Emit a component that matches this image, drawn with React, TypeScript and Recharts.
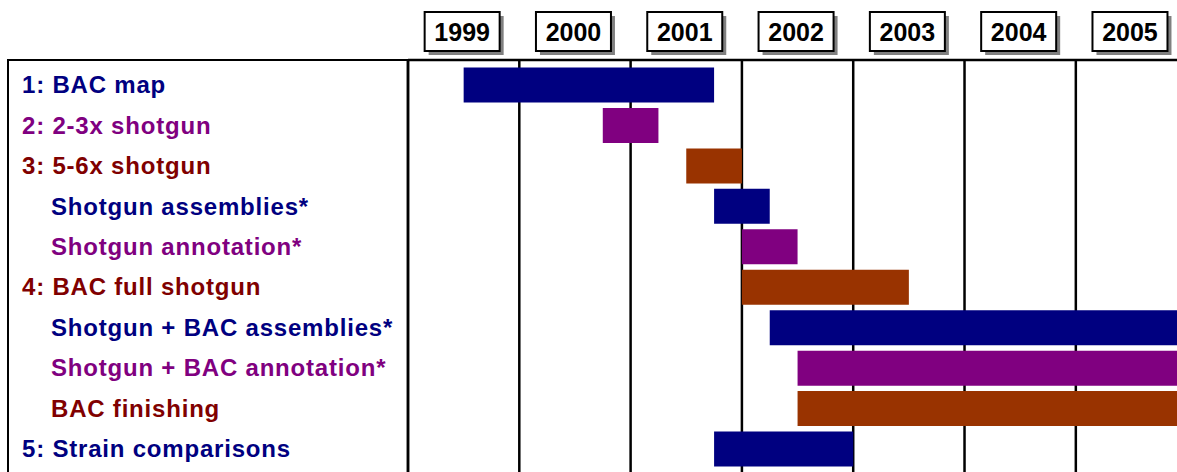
import React from 'react';
import { BarChart, Bar, XAxis, YAxis, CartesianGrid, Cell } from 'recharts';

const tasks = [
  '1: BAC map',
  '2: 2-3x shotgun',
  '3: 5-6x shotgun',
  'Shotgun assemblies*',
  'Shotgun annotation*',
  '4: BAC full shotgun',
  'Shotgun + BAC assemblies*',
  'Shotgun + BAC annotation*',
  'BAC finishing',
  '5: Strain comparisons',
];
const starts = [1999.5, 2000.75, 2001.5, 2001.75, 2002.0, 2002.0, 2002.25, 2002.5, 2002.5, 2001.75];
const ends = [2001.75, 2001.25, 2002.0, 2002.25, 2002.5, 2003.5, 2006.0, 2006.0, 2006.0, 2003.0];
const kinds = ['navy', 'purple', 'brown', 'navy', 'purple', 'brown', 'navy', 'purple', 'brown', 'navy'];
const indented = [false, false, false, true, true, false, true, true, true, false];

const yearLabels = ['1999', '2000', '2001', '2002', '2003', '2004', '2005'];
const yearTickValues = [1999.5, 2000.5, 2001.5, 2002.5, 2003.5, 2004.5, 2005.5];
const gridYears = [1999, 2000, 2001, 2002, 2003, 2004, 2005];
const xDomain = [1999, 2005.909];

const barColors: Record<string, string> = { navy: '#000080', purple: '#800080', brown: '#993300' };
const textColors: Record<string, string> = { navy: '#000080', purple: '#800080', brown: '#800000' };

const data = tasks.map((task, i) => ({
  task,
  range: [starts[i], ends[i]],
  kind: kinds[i],
  indent: indented[i],
}));

const FONT = '"Liberation Sans", Arial, sans-serif';

const YTick = (props: any) => {
  const { y, payload, index } = props;
  const i = typeof index === 'number' ? index : tasks.indexOf(payload.value);
  return (
    <text
      x={indented[i] ? 51 : 22}
      y={y}
      dy="0.355em"
      textAnchor="start"
      fill={textColors[kinds[i]]}
      fontFamily={FONT}
      fontWeight="bold"
      fontSize={24}
      letterSpacing={0.8}
    >
      {payload.value}
    </text>
  );
};

const XTick = (props: any) => {
  const { x, payload, index } = props;
  const i = typeof index === 'number' ? index : yearTickValues.indexOf(payload.value);
  const cx = x - 1.5;
  const w = 75;
  const h = 39;
  const top = 12;
  return (
    <g>
      <rect x={cx - w / 2 + 4} y={top + 4} width={w} height={h} fill="#808080" />
      <rect x={cx - w / 2} y={top} width={w} height={h} fill="#fff" stroke="#000" strokeWidth={2} />
      <text
        x={cx}
        y={top + h / 2}
        dy="0.36em"
        textAnchor="middle"
        fill="#000"
        fontFamily={FONT}
        fontWeight="bold"
        fontSize={25}
      >
        {yearLabels[i]}
      </text>
    </g>
  );
};

export default function App() {
  return (
    <div style={{ position: 'fixed', left: 0, top: 0, width: 1177, height: 472, background: '#fff', overflow: 'hidden' }}>
      <BarChart
        width={1177}
        height={472}
        data={data}
        layout="vertical"
        margin={{ top: 0, right: 0, bottom: 0, left: 0 }}
      >
        <CartesianGrid
          horizontal={false}
          verticalCoordinatesGenerator={(p: any) => {
            const s = p && p.xAxis && p.xAxis.scale;
            if (typeof s === 'function') return gridYears.map((v) => s(v));
            if (s && typeof s.map === 'function') return gridYears.map((v) => s.map(v));
            return [];
          }}
          stroke="#000"
          strokeWidth={2.5}
          fill="none"
        />
        <XAxis
          type="number"
          orientation="top"
          domain={xDomain}
          allowDataOverflow
          ticks={yearTickValues}
          interval={0}
          height={60}
          tickLine={false}
          axisLine={{ stroke: '#000', strokeWidth: 2.5 }}
          tick={<XTick />}
        />
        <YAxis
          type="category"
          dataKey="task"
          width={408}
          padding={{ top: 4.5, bottom: 3 }}
          tickLine={false}
          axisLine={{ stroke: '#000', strokeWidth: 2.5 }}
          interval={0}
          tick={<YTick />}
        />
        <Bar dataKey="range" barSize={35} isAnimationActive={false}>
          {data.map((d, i) => (
            <Cell key={i} fill={barColors[d.kind]} />
          ))}
        </Bar>
      </BarChart>
      <div
        style={{
          position: 'absolute',
          left: 7,
          top: 59,
          width: 402,
          height: 420,
          borderTop: '2.5px solid #000',
          borderLeft: '2.5px solid #000',
          pointerEvents: 'none',
          boxSizing: 'border-box',
        }}
      />
    </div>
  );
}
